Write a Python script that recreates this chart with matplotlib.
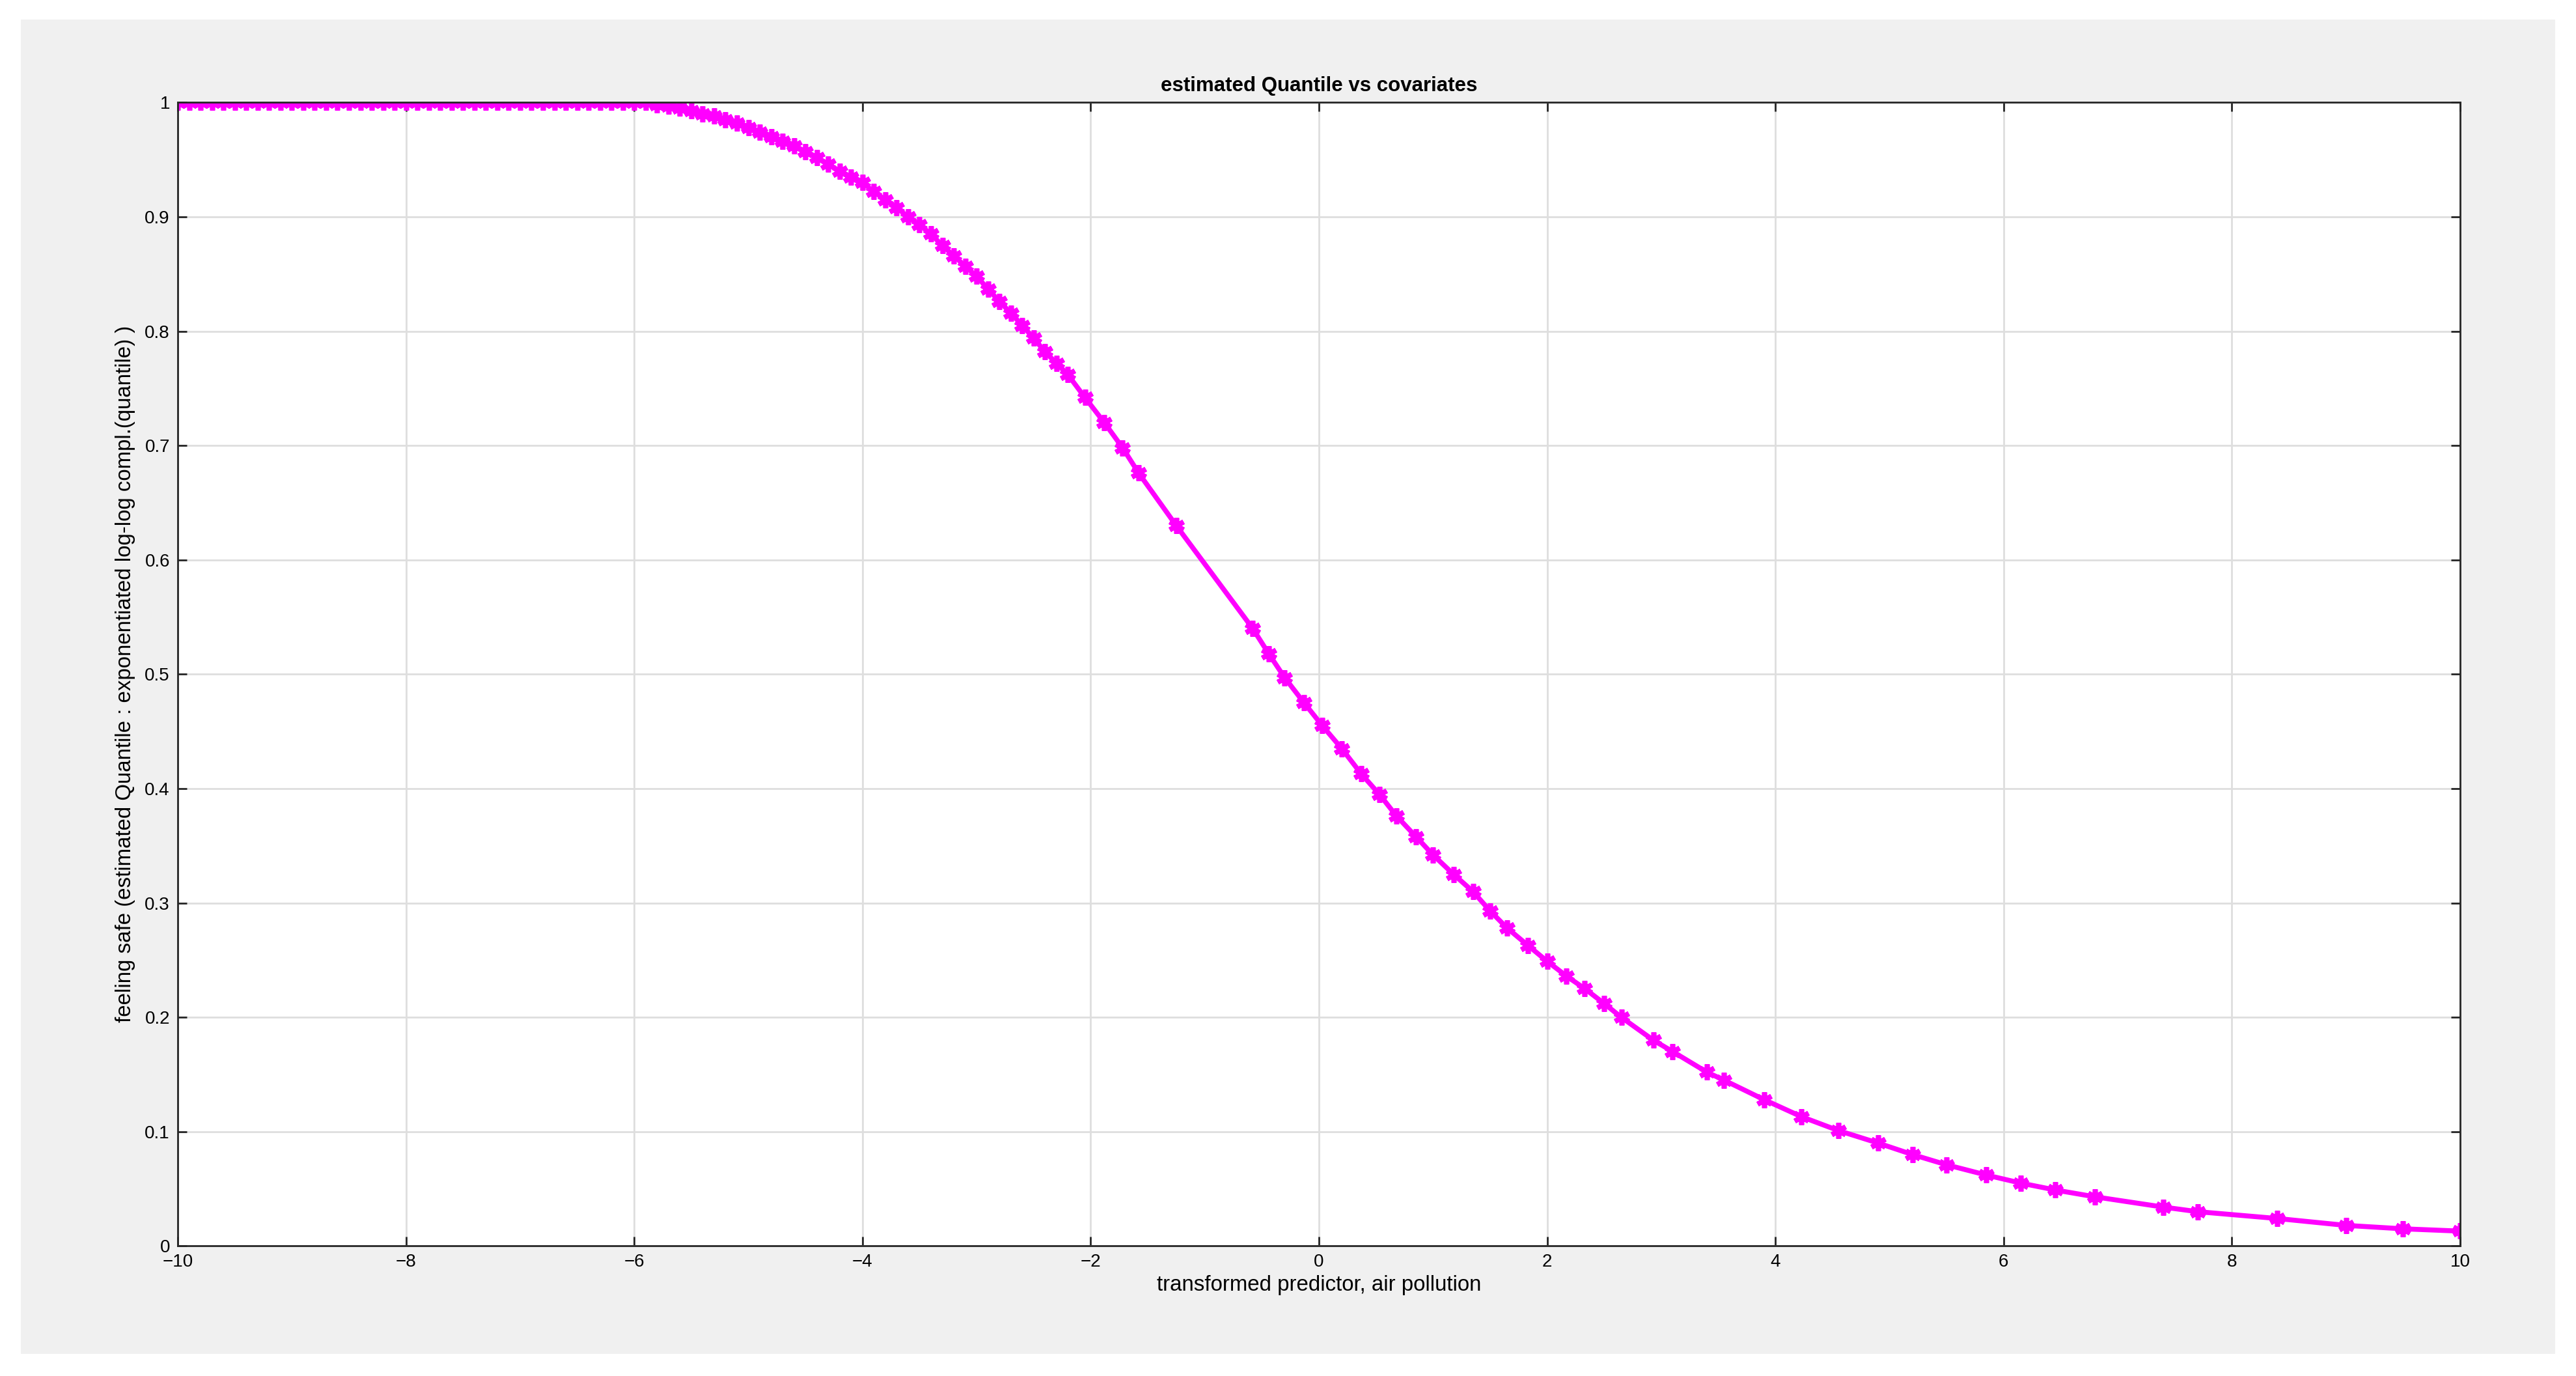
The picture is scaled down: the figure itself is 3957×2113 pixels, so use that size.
import matplotlib
matplotlib.use("Agg")
import matplotlib.pyplot as plt
from matplotlib.patches import Rectangle

plt.rcParams['font.family'] = ['Liberation Sans', 'DejaVu Sans']

# flat part near 1
x_flat = [-10.0, -9.9, -9.8, -9.7, -9.6, -9.5, -9.4, -9.3, -9.2, -9.1, -9.0,
          -8.9, -8.8, -8.7, -8.6, -8.5, -8.4, -8.3, -8.2, -8.1, -8.0,
          -7.9, -7.8, -7.7, -7.6, -7.5, -7.4, -7.3, -7.2, -7.1, -7.0,
          -6.9, -6.8, -6.7, -6.6, -6.5, -6.4, -6.3, -6.2, -6.1, -6.0, -5.9]
y_flat = [1.0] * len(x_flat)

x_curve = [-5.8, -5.7, -5.6, -5.5, -5.4, -5.3, -5.2, -5.1, -5.0, -4.9, -4.8, -4.7,
           -4.6, -4.5, -4.4, -4.3, -4.2, -4.1, -4.0, -3.9, -3.8, -3.7, -3.6, -3.5,
           -3.4, -3.3, -3.2, -3.1, -3.0, -2.9, -2.8, -2.7, -2.6, -2.5, -2.4, -2.3,
           -2.2, -2.05, -1.88, -1.72, -1.58, -1.25, -0.58, -0.44, -0.3, -0.13,
           0.03, 0.2, 0.37, 0.53, 0.68, 0.85, 1.0, 1.18, 1.35, 1.5, 1.65, 1.83,
           2.0, 2.17, 2.33, 2.5, 2.65, 2.93, 3.1, 3.4, 3.55, 3.9, 4.23, 4.55,
           4.9, 5.2, 5.5, 5.85, 6.15, 6.45, 6.8, 7.4, 7.7, 8.4, 9.0, 9.5, 10.0]
y_curve = [0.998, 0.997, 0.995, 0.993, 0.99, 0.988, 0.985, 0.982, 0.978, 0.974, 0.97, 0.966,
           0.962, 0.957, 0.952, 0.946, 0.94, 0.935, 0.93, 0.922, 0.915, 0.908, 0.9, 0.893,
           0.885, 0.875, 0.866, 0.857, 0.848, 0.837, 0.826, 0.816, 0.805, 0.794, 0.782, 0.772,
           0.762, 0.742, 0.72, 0.698, 0.676, 0.63, 0.54, 0.518, 0.497, 0.475,
           0.455, 0.435, 0.413, 0.395, 0.376, 0.358, 0.342, 0.325, 0.31, 0.293, 0.278, 0.263,
           0.249, 0.236, 0.225, 0.212, 0.2, 0.18, 0.17, 0.152, 0.145, 0.128, 0.113, 0.101,
           0.09, 0.08, 0.071, 0.062, 0.055, 0.049, 0.043, 0.034, 0.03, 0.024, 0.018, 0.015, 0.013]

x_all = x_flat + x_curve
y_all = y_flat + y_curve

fig = plt.figure(figsize=(15.828, 8.452), dpi=250, facecolor='white')
bg = Rectangle((0.008, 0.016), 0.984, 0.97, transform=fig.transFigure,
               facecolor='#f0f0f0', edgecolor='none', zorder=-10)
fig.add_artist(bg)
ax = fig.add_axes([0.069, 0.0945, 0.886, 0.831])
ax.set_zorder(5)
ax.set_facecolor('white')

ax.plot(x_all, y_all, color='#ff00ff', linewidth=2.2, marker=(6, 2, 0),
        markersize=7, markeredgewidth=2.2)

ax.set_xlim(-10, 10)
ax.set_ylim(0, 1)
ax.set_xticks(range(-10, 11, 2))
ax.set_yticks([i / 10 for i in range(11)])
ax.set_yticklabels(['0', '0.1', '0.2', '0.3', '0.4', '0.5', '0.6', '0.7', '0.8', '0.9', '1'])
ax.tick_params(labelsize=8, direction='in', length=4, top=True, right=True, color='#262626')
ax.grid(True, color='#dedede', linewidth=0.8)
for s in ax.spines.values():
    s.set_color('#262626')
    s.set_linewidth(0.8)

ax.set_title('estimated Quantile vs covariates', fontsize=9, fontweight='bold', pad=5)
ax.set_xlabel('transformed predictor, air pollution', fontsize=9.5, labelpad=2)
ax.set_ylabel('feeling safe (estimated Quantile : exponentiated log-log compl.(quantile) )',
              fontsize=9.5, labelpad=4)

fig.savefig('out.png', dpi=250, facecolor=fig.get_facecolor())
